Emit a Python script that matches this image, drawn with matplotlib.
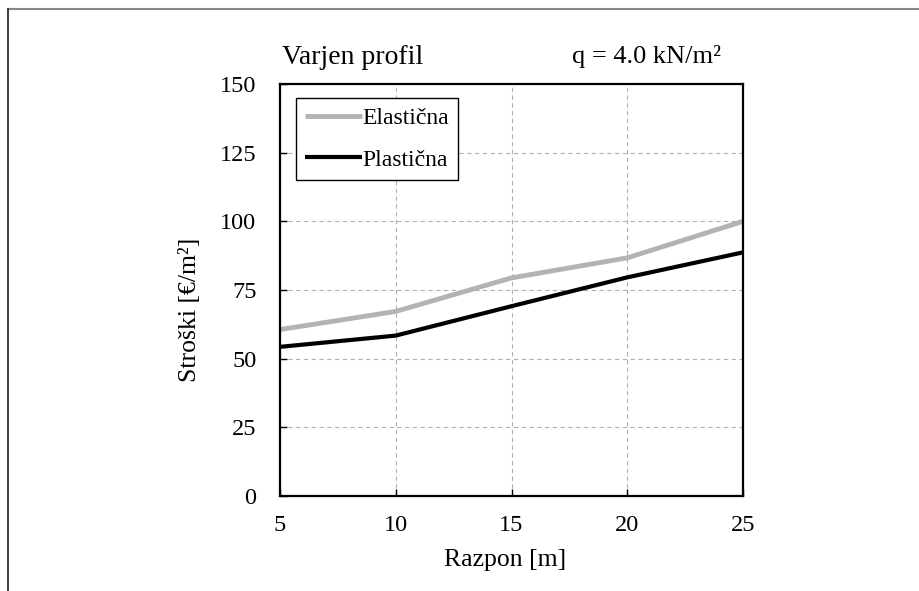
import matplotlib.pyplot as plt
from matplotlib.lines import Line2D

plt.rcParams['font.family'] = ['Liberation Serif', 'DejaVu Serif']

# データ
razpon = [5, 10, 15, 20, 25]
elasticna = [60.6, 67.2, 79.4, 86.7, 100.0]
plasticna = [54.3, 58.4, 69.1, 79.6, 88.7]
x_ticks = [5, 10, 15, 20, 25]
y_ticks = [0, 25, 50, 75, 100, 125, 150]

W, H = 920, 591
fig = plt.figure(figsize=(W / 100, H / 100), dpi=100)
# 軸の位置（ピクセルから）
L, R, T, B = 280, 743, 84, 496
ax = fig.add_axes([L / W, 1 - B / H, (R - L) / W, (B - T) / H])

ax.plot(razpon, elasticna, color='#b3b3b3', lw=3.5, label='Elastična', solid_capstyle='butt')
ax.plot(razpon, plasticna, color='black', lw=3.0, label='Plastična', solid_capstyle='butt')

ax.set_xlim(5, 25)
ax.set_ylim(0, 150)
ax.set_xticks(x_ticks)
ax.set_yticks(y_ticks)
ax.tick_params(direction='in', length=5, width=1, labelsize=17.5)
ax.tick_params(axis='x', pad=14)
ax.tick_params(axis='y', pad=17)
ax.grid(True, color='#b0b0b0', linestyle=(0, (4, 3)), linewidth=0.8)
for s in ax.spines.values():
    s.set_linewidth(1.6)

# 軸ラベル
fig.text(505 / W, 1 - 560 / H, 'Razpon [m]', fontsize=18.5, ha='center', va='center')
fig.text(190 / W, 1 - 310 / H, 'Stroški [€/m²]', fontsize=18.5, ha='center', va='center', rotation=90)

leg = ax.legend(loc='upper left', bbox_to_anchor=((296 - L) / (R - L), (B - 98) / (B - T)), fontsize=17,
                fancybox=False, framealpha=1, edgecolor='black', handlelength=2.4,
                handletextpad=0.0, borderpad=0.4, borderaxespad=0, labelspacing=0.85)
leg.get_frame().set_linewidth(1.0)

fig.text(282 / W, 1 - 57 / H, 'Varjen profil', fontsize=20, ha='left', va='center')
fig.text(647 / W, 1 - 57 / H, 'q = 4.0 kN/m²', fontsize=19, ha='center', va='center')

# 外枠
fig.add_artist(Line2D([8 / W, 1], [1 - 9 / H, 1 - 9 / H], color='#888888', lw=1.5, transform=fig.transFigure))
fig.add_artist(Line2D([8 / W, 8 / W], [0, 1 - 9 / H], color='#444444', lw=1.5, transform=fig.transFigure))

fig.savefig('out.png', dpi=100)
